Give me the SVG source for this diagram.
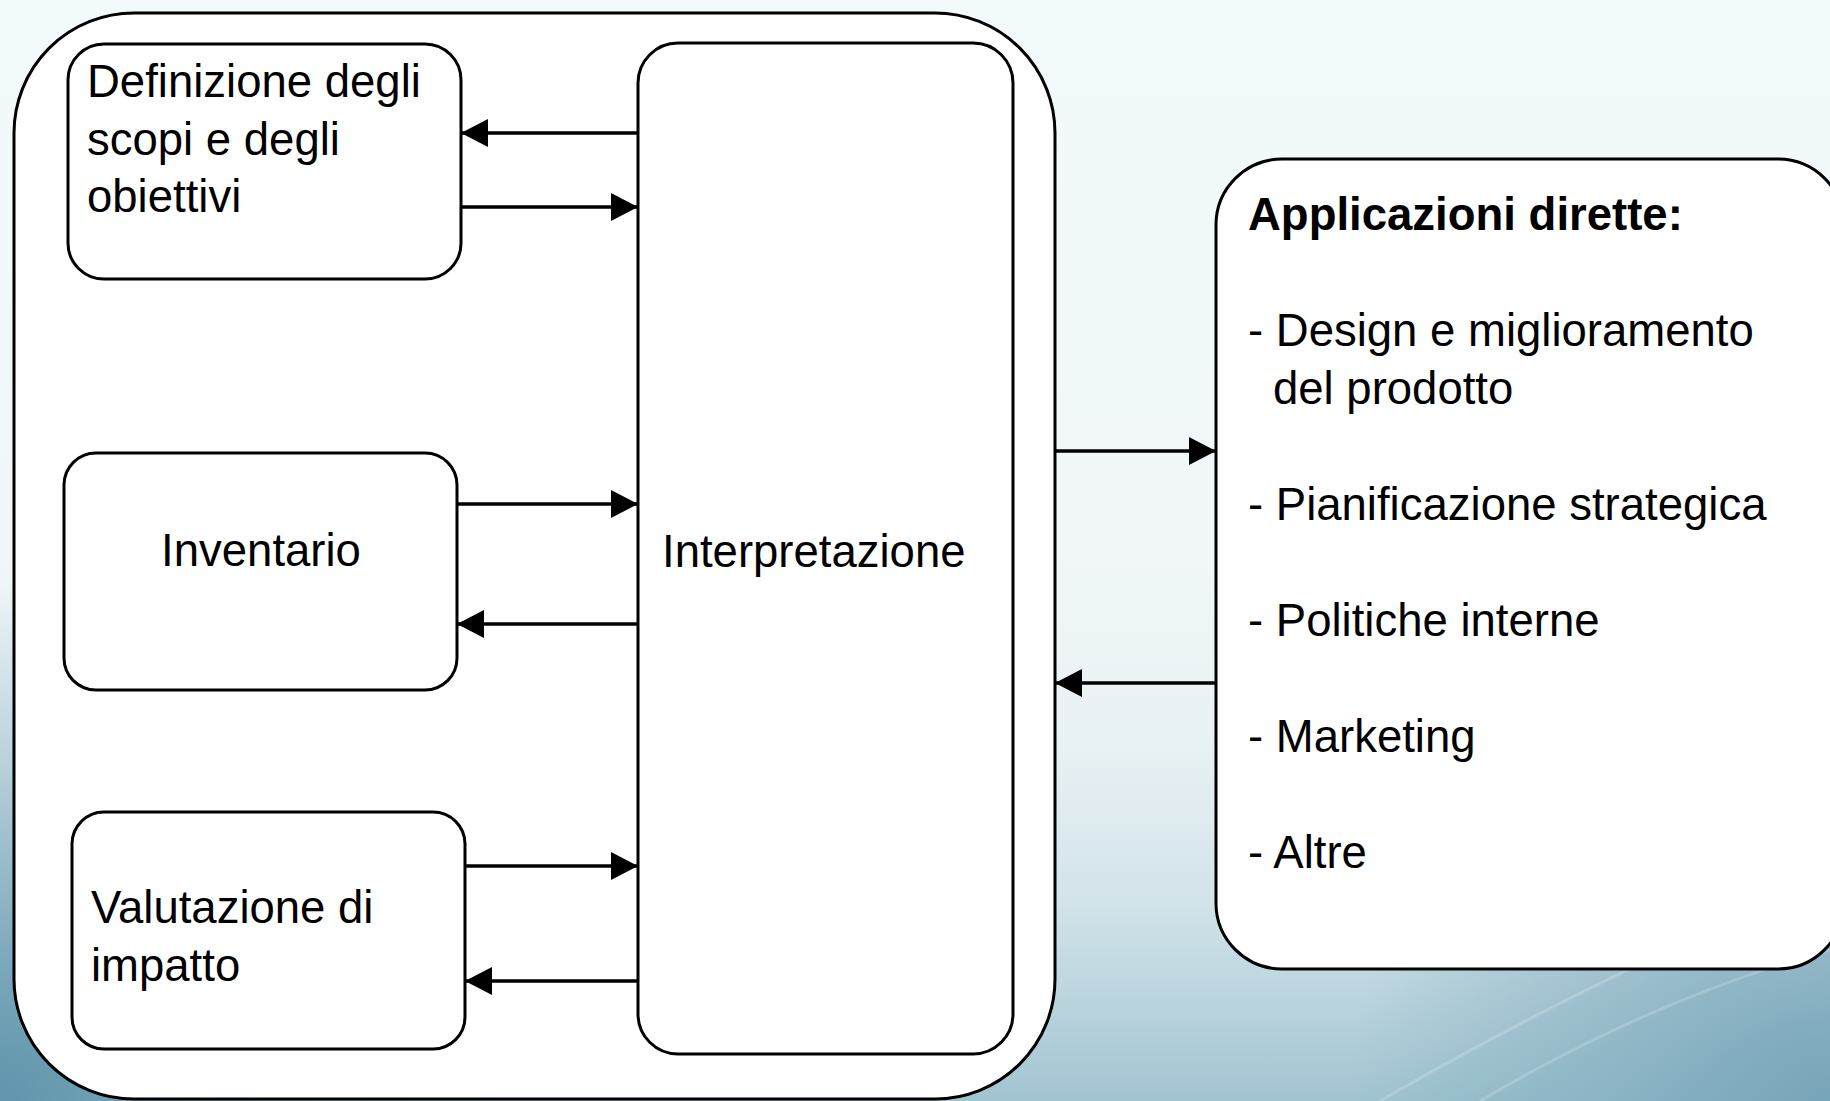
<svg xmlns="http://www.w3.org/2000/svg" width="1830" height="1101" viewBox="0 0 1830 1101">
<defs>
<linearGradient id="bgv" x1="0" y1="0" x2="0" y2="1">
<stop offset="0" stop-color="#f2fafc"/>
<stop offset="0.5" stop-color="#f1f7f9"/>
<stop offset="0.68" stop-color="#e8f1f4"/>
<stop offset="0.82" stop-color="#d2e3e9"/>
<stop offset="0.92" stop-color="#b7d2dc"/>
<stop offset="1" stop-color="#a1c4d1"/>
</linearGradient>
<radialGradient id="bl" cx="0" cy="1101" r="520" gradientUnits="userSpaceOnUse">
<stop offset="0" stop-color="#5e93aa" stop-opacity="0.95"/>
<stop offset="1" stop-color="#5e93aa" stop-opacity="0"/>
</radialGradient>
<radialGradient id="br" cx="1830" cy="1101" r="480" gradientUnits="userSpaceOnUse">
<stop offset="0" stop-color="#6f9fb4" stop-opacity="0.85"/>
<stop offset="1" stop-color="#6f9fb4" stop-opacity="0"/>
</radialGradient>
<marker id="ah" markerUnits="userSpaceOnUse" markerWidth="28" markerHeight="28" viewBox="0 0 27 28" refX="27" refY="14" orient="auto">
<path d="M0,0 L27,14 L0,28 Z" fill="#000"/>
</marker>
<style>
.box{fill:#fff;stroke:#000;stroke-width:3}
.t{font-family:"Liberation Sans",Arial,sans-serif;font-size:45.5px;fill:#000}
.b{font-weight:bold}
.c{stroke:#000;stroke-width:3.5;fill:none;marker-end:url(#ah)}
.sw{fill:none;stroke:#ffffff;stroke-opacity:0.18;stroke-width:3}
</style>
</defs>
<g id="background">
<rect x="0" y="0" width="1830" height="1101" fill="url(#bgv)"/>
<rect x="0" y="0" width="1830" height="1101" fill="url(#bl)"/>
<rect x="0" y="0" width="1830" height="1101" fill="url(#br)"/>
<path class="sw" d="M1380,1101 C1520,1020 1680,940 1830,880"/>
<path class="sw" d="M1480,1101 C1600,1030 1720,980 1830,950"/>
</g>
<g id="outer">
<rect class="box" x="14" y="13" width="1041" height="1086" rx="120" ry="120"/>
</g>
<g id="node-definizione">
<rect class="box" x="68" y="44" width="393" height="235" rx="36" ry="36"/>
<text class="t" x="87" y="97">Definizione degli</text>
<text class="t" x="87" y="155">scopi e degli</text>
<text class="t" x="87" y="212">obiettivi</text>
</g>
<g id="node-inventario">
<rect class="box" x="64" y="453" width="393" height="237" rx="32" ry="32"/>
<text class="t" x="261" y="566" text-anchor="middle">Inventario</text>
</g>
<g id="node-valutazione">
<rect class="box" x="72" y="812" width="393" height="237" rx="32" ry="32"/>
<text class="t" x="91" y="923">Valutazione di</text>
<text class="t" x="91" y="981">impatto</text>
</g>
<g id="node-interpretazione">
<rect class="box" x="638" y="43" width="375" height="1011" rx="40" ry="40"/>
<text class="t" x="662" y="567">Interpretazione</text>
</g>
<g id="node-applicazioni">
<rect class="box" x="1216" y="159" width="628" height="810" rx="66" ry="66"/>
<text class="t b" x="1248" y="230">Applicazioni dirette:</text>
<text class="t" x="1248" y="346">- Design e miglioramento</text>
<text class="t" x="1273" y="404">del prodotto</text>
<text class="t" x="1248" y="520">- Pianificazione strategica</text>
<text class="t" x="1248" y="636">- Politiche interne</text>
<text class="t" x="1248" y="752">- Marketing</text>
<text class="t" x="1248" y="868">- Altre</text>
</g>
<g id="connectors">
<line class="c" x1="638" y1="133" x2="461" y2="133"/>
<line class="c" x1="461" y1="207" x2="638" y2="207"/>
<line class="c" x1="457" y1="504" x2="638" y2="504"/>
<line class="c" x1="638" y1="624" x2="457" y2="624"/>
<line class="c" x1="465" y1="866" x2="638" y2="866"/>
<line class="c" x1="638" y1="981" x2="465" y2="981"/>
<line class="c" x1="1055" y1="451" x2="1216" y2="451"/>
<line class="c" x1="1216" y1="683" x2="1055" y2="683"/>
</g>
</svg>
